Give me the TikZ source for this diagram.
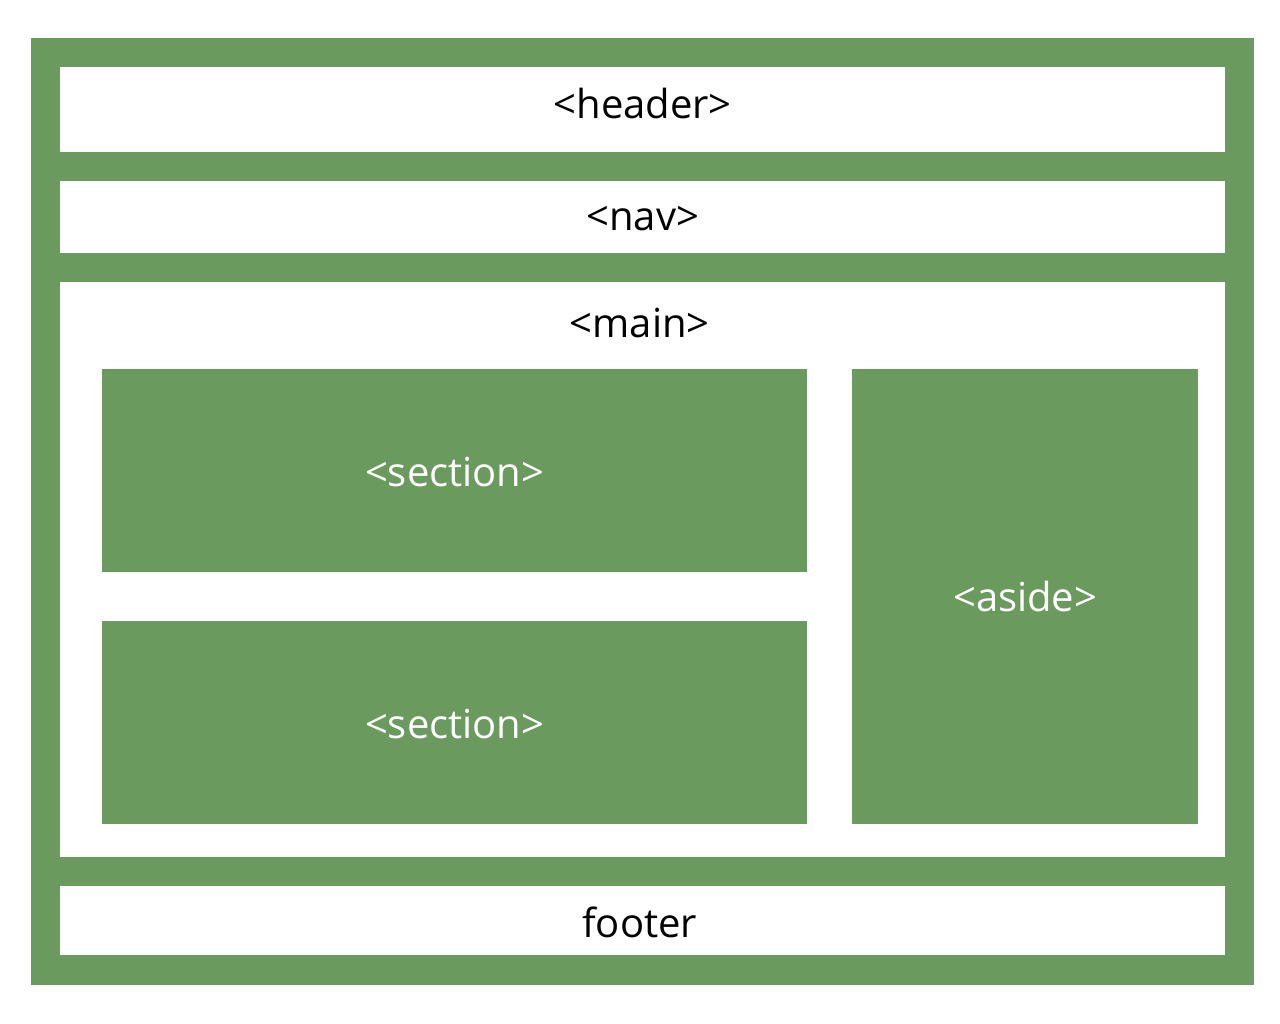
\documentclass[tikz,border=0pt]{standalone}
\usepackage{fontspec}
\setmainfont{Open Sans}
\usepackage{xcolor}
\definecolor{layoutgreen}{RGB}{106,154,94}

\begin{document}
\begin{tikzpicture}[
								x=1pt, y=-1pt,
								every node/.style={font=\fontsize{40}{46}\selectfont, inner sep=0pt},
								region/.style = {fill=white, anchor=north west},
								block/.style = {fill=layoutgreen, text=white, anchor=north west},
								]
								
								\useasboundingbox (0,0) rectangle (1280,1024);
								\fill[layoutgreen] (31,38) rectangle (1254,985);
								
								\node[region, minimum width=1165pt, minimum height=85pt] (header) at (60,67) {};
								\node[region, minimum width=1165pt, minimum height=72pt] (nav) at (60,181) {};
								\node[region, minimum width=1165pt, minimum height=575pt] (main) at (60,282) {};
								\node[region, minimum width=1165pt, minimum height=69pt] (footer) at (60,886) {};
								
								\node (headertext) at ([yshift=6pt]header.center) {<header>};
								\node (navtext) at ([yshift=-1pt]nav.center) {<nav>};
								\node (maintext) at ([xshift=-3pt, yshift=-41pt]main.north) {<main>};
								\node (footertext) at ([xshift=-3pt, yshift=-2pt]footer.center) {footer};
								
								\node[block, minimum width=705pt, minimum height=203pt] (sectionA) at (102,369) {};
								\node[block, minimum width=705pt, minimum height=203pt] (sectionB) at (102,621) {};
								\node[block, minimum width=346pt, minimum height=455pt] (aside) at (852,369) {};
								
								\node[text=white] at ([yshift=-1pt]sectionA.center) {<section>};
								\node[text=white] at ([yshift=-1pt]sectionB.center) {<section>};
								\node[text=white] at (aside.center) {<aside>};
							\end{tikzpicture}
\end{document}
